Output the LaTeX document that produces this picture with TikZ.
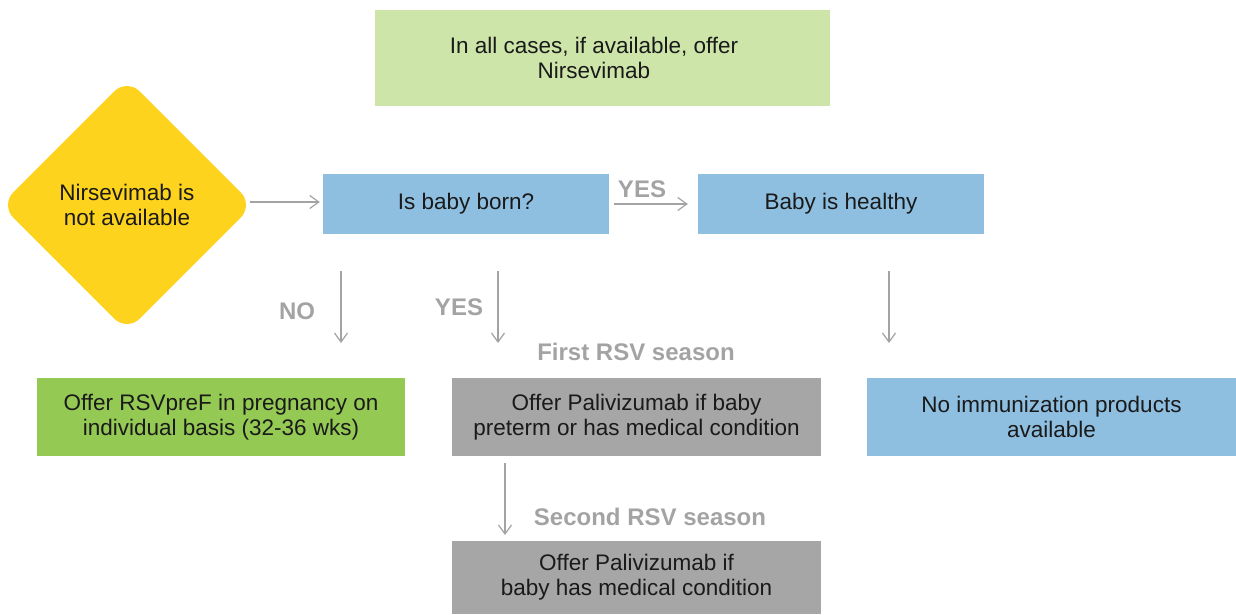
\documentclass[tikz,border=0pt]{standalone}
\usepackage{fontspec}
\setmainfont{Liberation Sans}
\usetikzlibrary{shapes.geometric,arrows.meta}

\definecolor{palegreen}{HTML}{CDE5A9}
\definecolor{leafgreen}{HTML}{94C954}
\definecolor{skyblue}{HTML}{8FBFE0}
\definecolor{midgray}{HTML}{A6A6A6}
\definecolor{sunyellow}{HTML}{FDD31E}
\definecolor{linegray}{HTML}{A3A3A3}
\definecolor{inkblack}{HTML}{1A1A1A}

\begin{document}
\begin{tikzpicture}[x=1pt,y=-1pt,
    box/.style={inner sep=0pt, align=center, text=inkblack,
        font=\fontsize{22.5}{25}\selectfont},
    tag/.style={text=linegray, font=\fontsize{24}{25}\selectfont\bfseries},
    arr/.style={-{Straight Barb[length=9pt,width=13pt]}, draw=linegray, line width=1.2pt}]
\useasboundingbox (0,0) rectangle (1236,614);

% Top note
\node[box, fill=palegreen, minimum width=455, minimum height=96] (allcases) at (602.5,58) {};
\node[box] at (594,58) {In all cases, if available, offer\\Nirsevimab};

% Decision row
\node[box, diamond, fill=sunyellow, minimum width=253, minimum height=253,
    rounded corners=18pt] (notavail) at (127,205) {Nirsevimab is\\not available};
\node[box, fill=skyblue, minimum width=286, minimum height=60] (born) at (466,204) {Is baby born?};
\node[box, fill=skyblue, minimum width=286, minimum height=60] (healthy) at (841,204) {Baby is healthy};

% Outcomes
\node[box, fill=leafgreen, minimum width=368, minimum height=78] (rsvpref) at (221,417)
    {Offer RSVpreF in pregnancy on\\individual basis (32-36 wks)};
\node[box, fill=midgray, minimum width=369, minimum height=78] (pali1) at (636.5,417)
    {Offer Palivizumab if baby\\preterm or has medical condition};
\node[box, fill=skyblue, minimum width=369, minimum height=78] (noprod) at (1051.5,417)
    {No immunization products\\available};
\node[box, fill=midgray, minimum width=369, minimum height=73] (pali2) at (636.5,577.5)
    {Offer Palivizumab if\\baby has medical condition};

% Labels
\node[tag] (yesright) at (642,189) {YES};
\node[tag] (nodown) at (297,311) {NO};
\node[tag] (yesdown) at (459,307) {YES};
\node[tag] (firstseason) at (636,352) {First RSV season};
\node[tag] (secondseason) at (650,517) {Second RSV season};

% Arrows
\draw[arr, shorten <=-4pt, shorten >=3pt] ([yshift=3pt]notavail.east) -- ([yshift=3pt]notavail.east -| born.west);
\draw[arr, shorten <=5pt, shorten >=10pt] (born.east) -- (healthy.west);
\foreach \x/\name in {341/no, 498/yes, 889/well} {
    \coordinate (\name-a) at (\x,271);
    \coordinate (\name-b) at (\x,343);
    \draw[arr] (\name-a) -- (\name-b);
}
\coordinate (second-a) at (505,463);
\coordinate (second-b) at (505,535);
\draw[arr] (second-a) -- (second-b);
\end{tikzpicture}
\end{document}
